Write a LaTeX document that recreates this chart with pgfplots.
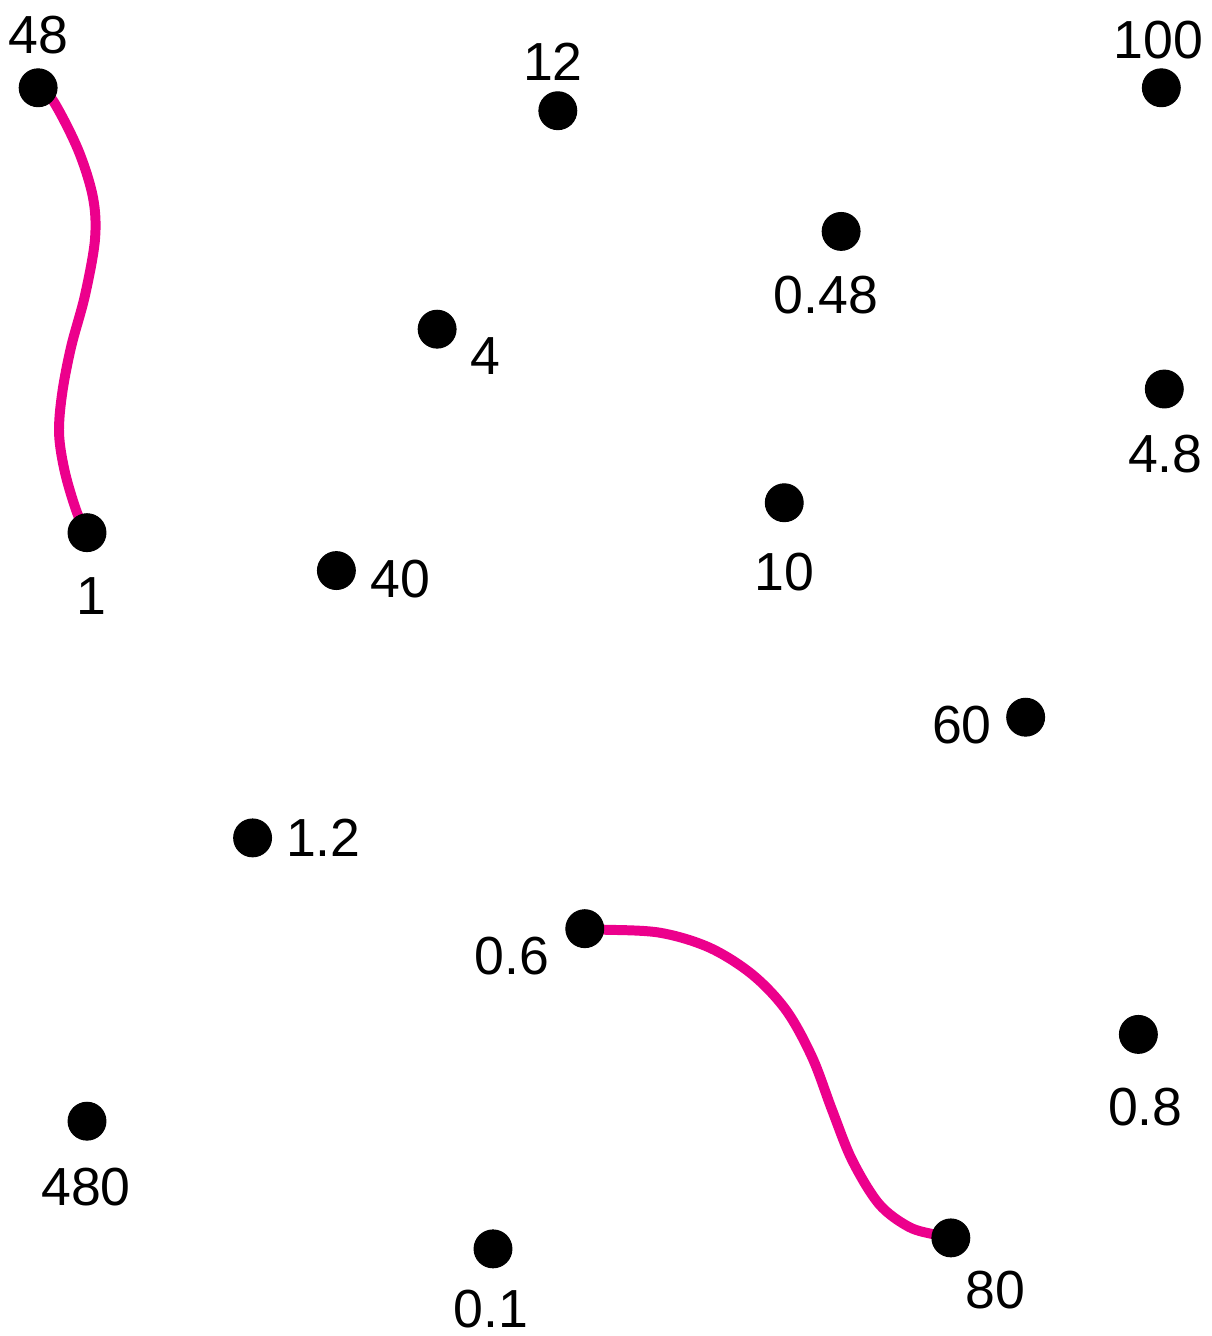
\documentclass[border=0pt]{standalone}
\usepackage{fontspec}
\setmainfont{Liberation Sans}
\usepackage{pgfplots}
\usepackage{pgfplotstable}
\pgfplotsset{compat=1.18}
\definecolor{pinkline}{HTML}{EC008C}
% dot x, y (pixels, y down), label, label shift in pt
\pgfplotstableread{
x y lab dx dy
37 88 48 0 21.2
558 111 12 -2 19.6
1163 88 100 -1.2 19.2
842 232 0.48 -6 -25.6
437 330 4 19.2 -10.8
1166 390 4.8 0.4 -26
86 534 1 1.6 -25.6
785 504 10 0 -27.6
336 572 40 25.6 -3.2
1027 719 60 -25.6 -3.2
252 840 1.2 28.4 0
585 931 0.6 -29.2 -10.8
1140 1037 0.8 2.8 -29.2
86 1124 480 -0.4 -26.4
952 1241 80 18 -20.8
493 1252 0.1 -0.8 -24
}\dotstable
\begin{document}
\begin{tikzpicture}
\begin{axis}[
  width=483.2pt, height=534.4pt, scale only axis,
  xmin=0, xmax=1208, ymin=0, ymax=1336, y dir=reverse,
  hide axis, clip=false,
]
\path (rel axis cs:0,0) rectangle (rel axis cs:1,1);
\addplot[pinkline, line width=4pt, smooth, tension=0.55] coordinates {
(37,88) (52,101) (77,150) (92,198) (94,240) (84,296) (70,348) (61,395) (58,435) (64,474) (76,514) (86,534)};
\addplot[pinkline, line width=4pt, smooth, tension=0.55] coordinates {
(585,932) (603,932) (660,935) (710,950) (753,977) (787,1013) (813,1060) (833,1113) (853,1163) (880,1207) (910,1230) (937,1238) (952,1242)};
\addplot[only marks, mark=*, mark size=7.6pt, black,
  point meta=explicit symbolic,
  visualization depends on={\thisrow{dx} \as \myshx},
  visualization depends on={\thisrow{dy} \as \myshy},
  nodes near coords,
  every node near coord/.append style={anchor=center, font=\fontsize{21.5}{24}\selectfont, black,
    xshift=\myshx pt, yshift=\myshy pt},
] table[x=x, y=y, meta=lab] {\dotstable};
\end{axis}
\end{tikzpicture}
\end{document}
